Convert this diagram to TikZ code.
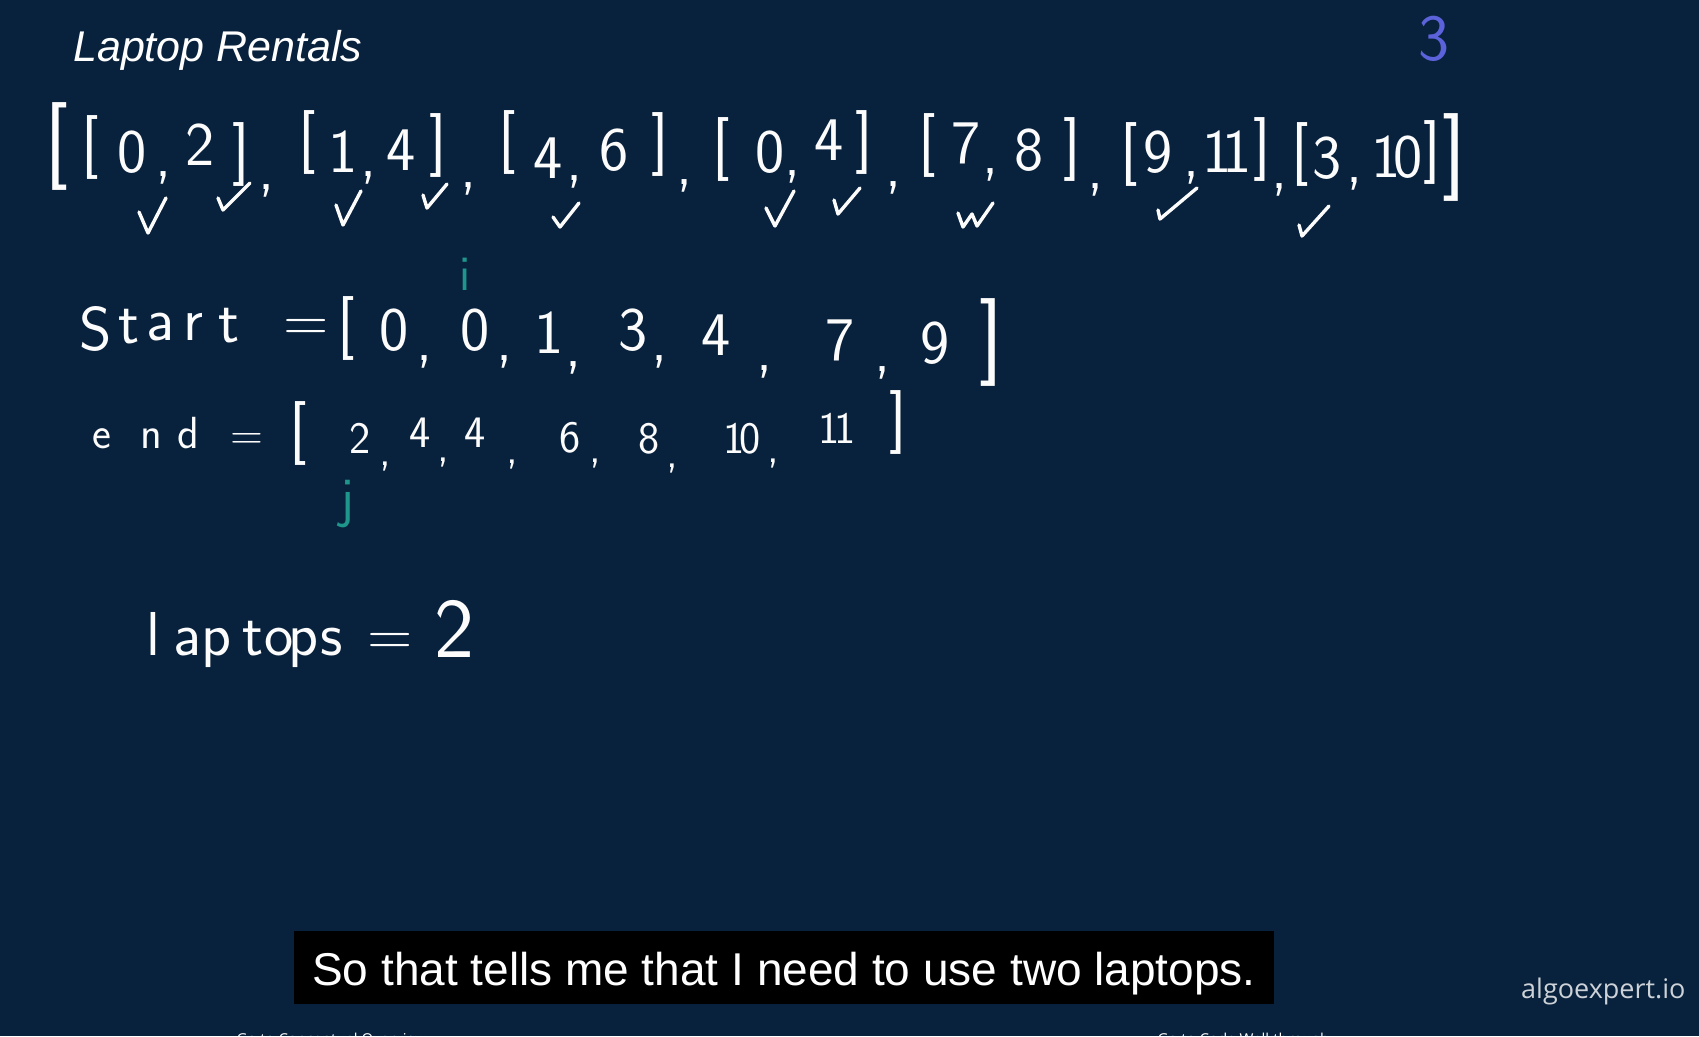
\documentclass[tikz,border=0pt]{standalone}
\usepackage{fontspec}
\newfontfamily\capfont{Liberation Sans}
\newfontfamily\brandfont{Open Sans}
\definecolor{boardbg}{RGB}{8,33,60}
\definecolor{chalk}{RGB}{252,252,252}
\definecolor{pointer}{RGB}{30,150,140}
\definecolor{violetpen}{RGB}{92,98,218}
\definecolor{logogray}{RGB}{205,210,216}
\newcommand\pen[1]{\sffamily\fontsize{#1}{#1}\selectfont}

\begin{document}
\begin{tikzpicture}[x=1pt, y=-1pt,
    hand/.style={text=chalk, anchor=base, inner sep=0pt, font=\pen{62}},
    handsm/.style={hand, font=\pen{45}},
    brak/.style={hand, font=\pen{64}},
    bigbrak/.style={hand, font=\pen{88}},
    checkmark/.style={draw=chalk, line width=3.4pt, line cap=round, line join=round},
    caption/.style={fill=black, text=white, inner sep=0pt, minimum width=980pt, minimum height=73pt,
        text height=40pt, text depth=5pt, font=\capfont\fontsize{46}{46}\selectfont},
    navlink/.style={anchor=base west, text=white, font=\brandfont\fontsize{15}{15}\selectfont}]

    \fill[boardbg] (0,0) rectangle (1699,1036);
    \useasboundingbox (0,0) rectangle (1699,1036);

    \node[anchor=base west, text=white, inner sep=0pt, font=\capfont\itshape\fontsize{43}{43}\selectfont] (title) at (73,61) {Laptop Rentals};
    \node[hand, text=violetpen, font=\pen{66}] (count) at (1434,60) {3};

    % intervals
    \node[bigbrak] (outl) at (57,168) {[};
    \node[bigbrak] (outr) at (1454,179) {]};
    \foreach \x/\y/\t [count=\i] in {90/163/[, 241/170/], 307/158/[, 438/161/], 507/158/[, 660/160/], 721/165/[,
            864/158/], 927/161/[, 1072/165/], 1129/170/[, 1262/165/], 1300/170/[, 1432/168/]}
        \node[brak] (ib\i) at (\x,\y) {\t};
    \foreach \x/\y/\t [count=\i] in {132/172/0, 164/176/{,}, 200/165/2, 267/189/{,}, 343/172/1, 369/176/{,}, 401/170/4,
            469/187/{,}, 548/178/4, 575/180/{,}, 614/170/6, 685/184/{,}, 770/172/0, 793/175/{,}, 829/160/4,
            894/186/{,}, 966/163/7, 991/173/{,}, 1029/170/8, 1096/188/{,}, 1158/172/9, 1192/176/{,},
            1227/172/{1\kern-10pt 1}, 1280/188/{,}, 1327/178/3, 1355/182/{,}, 1397/177/{1\kern-8pt 0}}
        \node[hand] (iv\i) at (\x,\y) {\t};

    \foreach \lx/\ly/\bx/\by/\rx/\ry in {139/212/148/233/166/198, 218/198/223/210/250/183, 336/205/343/225/361/191,
            423/195/427/208/447/184, 553/217/560/227/579/203, 766/208/775/226/794/191, 834/200/838/214/860/188,
            1158/210/1160/219/1197/188, 1299/225/1302/236/1329/206}
        \draw[checkmark] (\lx,\ly) -- (\bx,\by) -- (\rx,\ry);
    \draw[checkmark] (958,213) -- (963,227) -- (972,214) -- (977,226) -- (993,203);

    % start row
    \foreach \x/\y/\t [count=\i] in {96/350/S, 129/343/t, 160/340/a, 193/340/r, 229/342/t, 306/341/=,
            394/350/0, 425/360/{,}, 475/350/0, 505/360/{,}, 549/353/1, 574/366/{,}, 633/350/3, 660/360/{,},
            716/355/4, 765/370/{,}, 840/360/7, 883/371/{,}, 935/363/9}
        \node[hand] (st\i) at (\x,\y) {\t};
    \node[brak] (stl) at (346,344) {[};
    \node[bigbrak] (str) at (991,364) {]};
    \node[hand, text=pointer, font=\pen{50}] (iptr) at (465,290) {i};

    % end row
    \foreach \x/\y/\t [count=\i] in {102/448/e, 151/448/n, 188/448/d, 247/449/=, 360/453/2, 385/465/{,},
            420/447/4, 443/461/{,}, 475/447/4, 512/463/{,}, 570/452/6, 595/462/{,}, 649/453/8, 672/467/{,},
            742/453/{1\kern-5pt 0}, 773/462/{,}, 837/443/{1\kern-5pt 1}}
        \node[handsm] (en\i) at (\x,\y) {\t};
    \node[brak] (enl) at (298,449) {[};
    \node[brak] (enr) at (898,438) {]};
    \node[hand, text=pointer, font=\pen{56}] (jptr) at (347,516) {j};

    % result
    \foreach \x/\t [count=\i] in {153/l, 187/a, 217/p, 253/t, 279/o, 303/p, 332/s, 390/=}
        \node[hand] (lp\i) at (\x,655) {\t};
    \node[hand, font=\pen{85}] (lpval) at (454,657) {2};

    \node[caption] (sub) at (784,967.5) {So that tells me that I need to use two laptops.};
    \node[anchor=base west, text=logogray, inner sep=0pt, font=\brandfont\fontsize{27}{27}\selectfont] (brand) at (1521,998) {algoexpert.io};

    \begin{scope}
        \clip (0,0) rectangle (1699,1036);
        \node[navlink] (navl) at (233,1044) {Go to Conceptual Overview};
        \node[navlink] (navr) at (1154,1044) {Go to Code Walkthrough};
    \end{scope}
\end{tikzpicture}
\end{document}
